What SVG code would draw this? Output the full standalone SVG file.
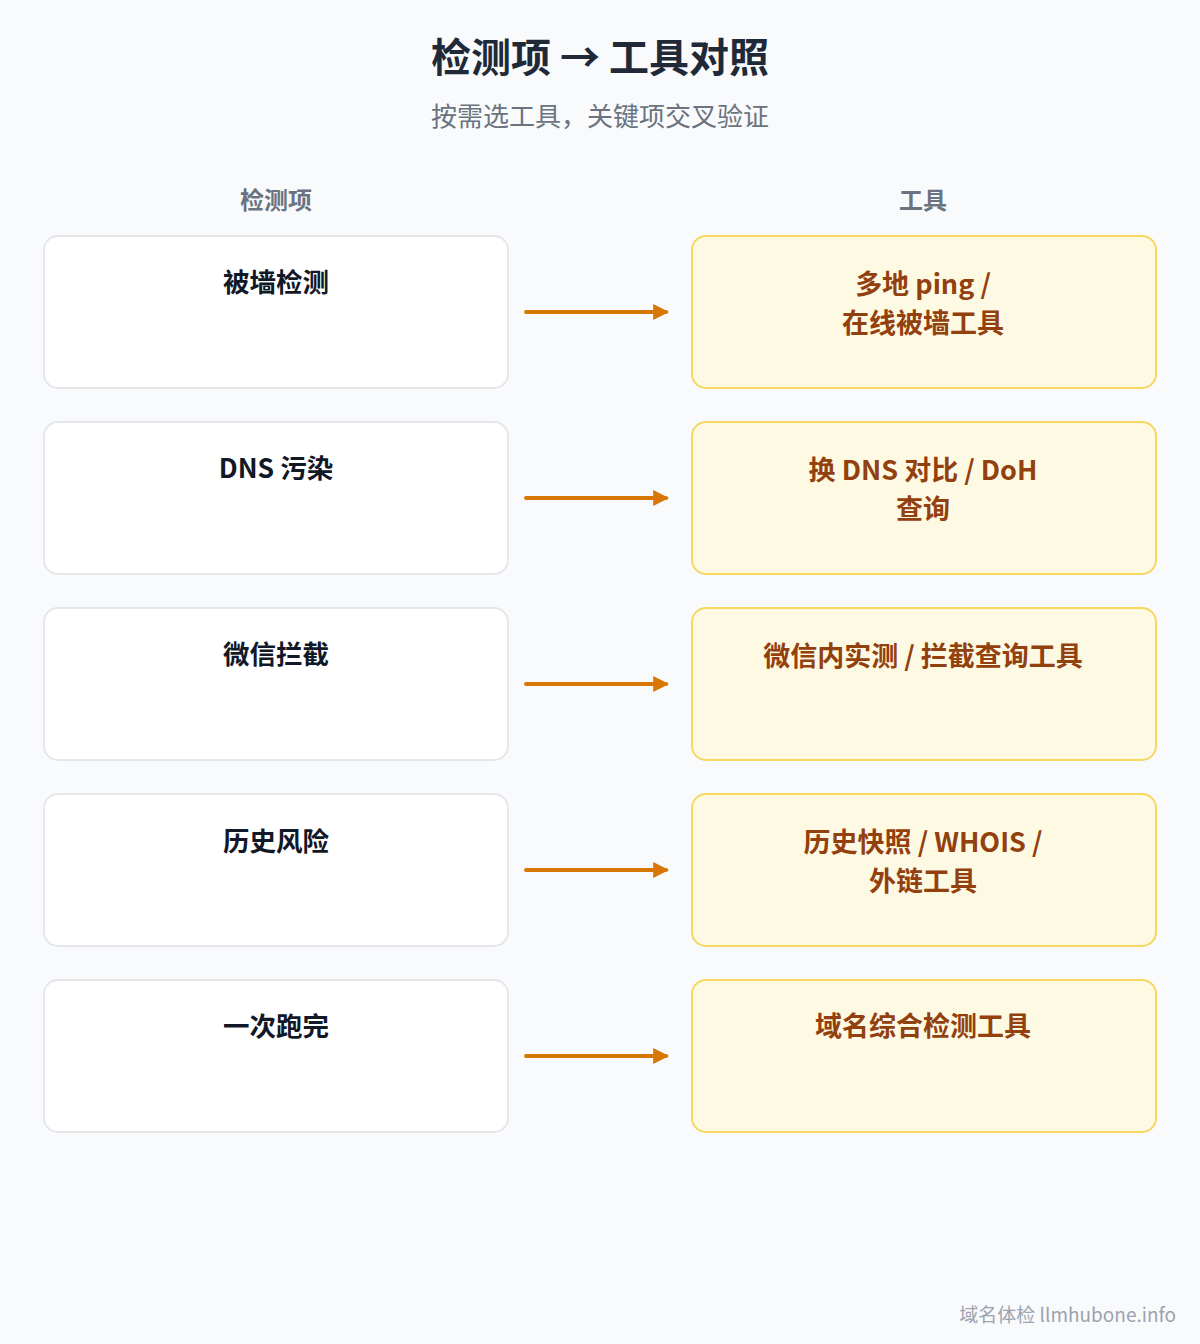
<svg xmlns="http://www.w3.org/2000/svg" width="1200" height="1344" viewBox="0 0 1200 1344">
<style>
text{font-family:"Noto Sans CJK SC","Noto Sans",sans-serif;text-anchor:middle}
.l rect{fill:#ffffff;stroke:#e5e7eb;stroke-width:2}
.r rect{fill:#fef9e3;stroke:#f6d860;stroke-width:2}
.lt{font-size:26.5px;font-weight:700;fill:#111827}
.rt{font-size:27px;font-weight:700;fill:#92400e}
.h{font-size:24px;font-weight:700;fill:#6b7280}
.c line{stroke:#d97706;stroke-width:4;stroke-linecap:round}
</style>
<defs><marker id="a" viewBox="0 0 10 10" refX="8" refY="5" markerWidth="4" markerHeight="4" orient="auto"><path d="M0,0L10,5L0,10z" fill="#d97706"/></marker></defs>
<rect width="1200" height="1344" fill="#f8fafc"/>
<text x="600" y="72" font-size="40" font-weight="700" fill="#1f2937">检测项 → 工具对照</text>
<text x="600" y="126" font-size="26" fill="#6b7280">按需选工具，关键项交叉验证</text>
<text class="h" x="276" y="209">检测项</text>
<text class="h" x="923" y="209">工具</text>
<g id="l1" class="l"><rect x="44" y="236" width="464" height="152" rx="14"/><text class="lt" x="276" y="292">被墙检测</text></g>
<g id="l2" class="l"><rect x="44" y="422" width="464" height="152" rx="14"/><text class="lt" x="276" y="478">DNS 污染</text></g>
<g id="l3" class="l"><rect x="44" y="608" width="464" height="152" rx="14"/><text class="lt" x="276" y="664">微信拦截</text></g>
<g id="l4" class="l"><rect x="44" y="794" width="464" height="152" rx="14"/><text class="lt" x="276" y="851">历史风险</text></g>
<g id="l5" class="l"><rect x="44" y="980" width="464" height="152" rx="14"/><text class="lt" x="276" y="1036">一次跑完</text></g>
<g id="r1" class="r"><rect x="692" y="236" width="464" height="152" rx="14"/><text class="rt" x="923" y="294">多地 ping /</text><text class="rt" x="923" y="333">在线被墙工具</text></g>
<g id="r2" class="r"><rect x="692" y="422" width="464" height="152" rx="14"/><text class="rt" x="923" y="480">换 DNS 对比 / DoH</text><text class="rt" x="923" y="519">查询</text></g>
<g id="r3" class="r"><rect x="692" y="608" width="464" height="152" rx="14"/><text class="rt" x="923" y="666">微信内实测 / 拦截查询工具</text></g>
<g id="r4" class="r"><rect x="692" y="794" width="464" height="152" rx="14"/><text class="rt" x="923" y="852">历史快照 / WHOIS /</text><text class="rt" x="923" y="891">外链工具</text></g>
<g id="r5" class="r"><rect x="692" y="980" width="464" height="152" rx="14"/><text class="rt" x="923" y="1036">域名综合检测工具</text></g>
<g id="conn" class="c">
<line x1="526" y1="312" x2="666" y2="312" marker-end="url(#a)"/>
<line x1="526" y1="498" x2="666" y2="498" marker-end="url(#a)"/>
<line x1="526" y1="684" x2="666" y2="684" marker-end="url(#a)"/>
<line x1="526" y1="870" x2="666" y2="870" marker-end="url(#a)"/>
<line x1="526" y1="1056" x2="666" y2="1056" marker-end="url(#a)"/>
</g>
<text x="1176" y="1322" font-size="19" fill="#9ca3af" style="text-anchor:end">域名体检 llmhubone.info</text>
</svg>
